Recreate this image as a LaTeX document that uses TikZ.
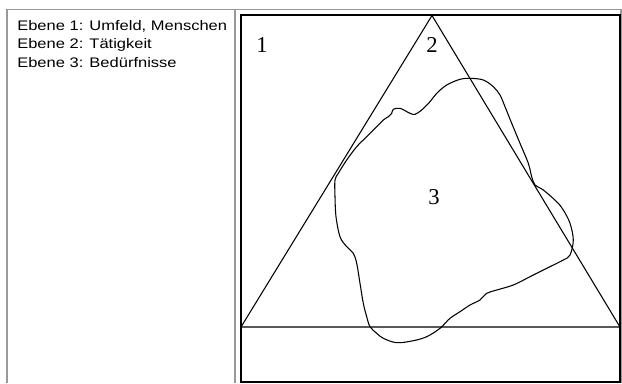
\documentclass[tikz,border=0pt]{standalone}
\usepackage{fontspec}
\setmainfont{Liberation Serif}
\newfontfamily\legendfont{Liberation Sans}
\usepackage{tikz}
\definecolor{framegray}{rgb}{0.6,0.6,0.6}

\begin{document}
\begin{tikzpicture}[x=0.75pt,y=-0.75pt]

\tikzstyle{legend}=[font=\legendfont\fontsize{10.4}{12}\selectfont, anchor=base west, inner sep=0pt, xscale=1.19, transform shape]
\tikzstyle{level}=[font=\fontsize{17}{20}\selectfont, inner sep=0pt]
\tikzstyle{cell}=[draw=framegray, line width=1.1pt]

\useasboundingbox (0,0) rectangle (622,383);

% table cells
    \draw[cell] (7,383) -- (7,9.5) -- (621,9.5) -- (621,383);
    \draw[cell] (235,9.5) -- (235,383);

% legend
    \node[legend] (ebeneA) at (17,30.3) {Ebene 1: Umfeld, Menschen};
    \node[legend] (ebeneB) at (17,48.7) {Ebene 2: T\"atigkeit};
    \node[legend] (ebeneC) at (17,67) {Ebene 3: Bed\"urfnisse};

% frame
    \draw[line width=1.5pt] (241,15) rectangle (620,382);

% triangle
    \coordinate (apex) at (432,15.5);
    \coordinate (baseL) at (241,327);
    \coordinate (baseR) at (620,327);
    \draw[line width=0.8pt] (apex) -- (baseL) -- (baseR) -- cycle;

% blob
    \draw[line width=0.8pt] plot[smooth cycle, tension=0.55] coordinates {
      (391.7,113.3) (393.3,109.3) (400,108.3) (410,113.3) (415,114.3)
      (421.7,110) (430,101.7) (436.7,93.3) (446.7,85) (460,79.3)
      (470,78.3) (483.3,80) (493.3,86.7) (500,95) (505,106.7)
      (511.7,123.3) (520,143.3) (528.3,163.3) (531.7,176.7) (535,185)
      (543.3,190) (556.7,201.7) (563.3,210) (570,223.3) (573.3,240)
      (570,255) (563.3,260) (546.7,268.3) (530,276.7) (513.3,285)
      (496.7,290) (486.7,293.3) (480,300) (470,305) (460,311.7)
      (450,318.3) (440,328.3) (426.7,336.7) (413.3,340.7) (396.7,342.7)
      (383.3,338.3) (376.7,333.3) (370,326.7) (366.7,316.7) (363.3,303.3)
      (360,283.3) (356.7,263.3) (353.3,253.3) (346.7,246.7) (340,236.7)
      (336,216.7) (335,196.7) (335,180) (338.3,173.3) (346.7,160)
      (356.7,146.7) (366.7,136.7) (376.7,126.7) (383.3,120) (388.3,116.7)};

% level numbers
    \node[level] (one) at (262,45) {1};
    \node[level] (two) at (432,45) {2};
    \node[level] (three) at (434,197) {3};

\end{tikzpicture}
\end{document}
